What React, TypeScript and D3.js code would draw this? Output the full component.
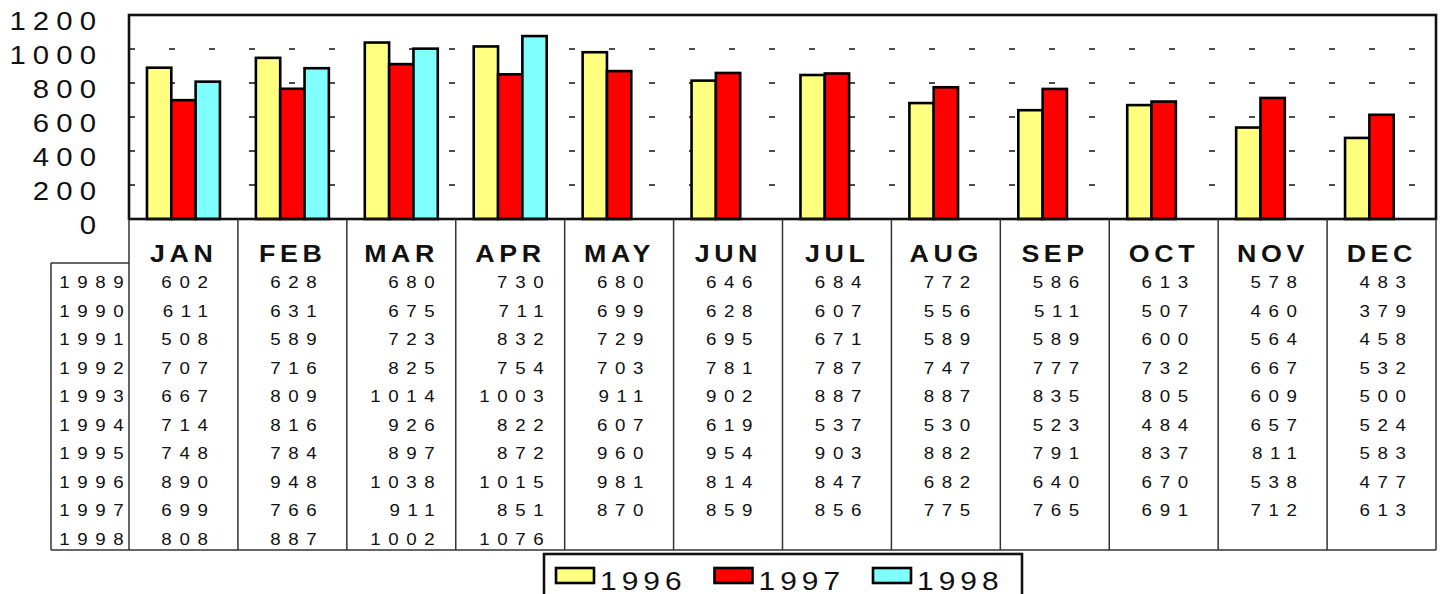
import * as d3 from 'd3';
import type { ReactNode } from 'react';

const MONTHS = ['JAN', 'FEB', 'MAR', 'APR', 'MAY', 'JUN', 'JUL', 'AUG', 'SEP', 'OCT', 'NOV', 'DEC'];
const YEARS = ['1989', '1990', '1991', '1992', '1993', '1994', '1995', '1996', '1997', '1998'];

const R1989 = [602, 628, 680, 730, 680, 646, 684, 772, 586, 613, 578, 483];
const R1990 = [611, 631, 675, 711, 699, 628, 607, 556, 511, 507, 460, 379];
const R1991 = [508, 589, 723, 832, 729, 695, 671, 589, 589, 600, 564, 458];
const R1992 = [707, 716, 825, 754, 703, 781, 787, 747, 777, 732, 667, 532];
const R1993 = [667, 809, 1014, 1003, 911, 902, 887, 887, 835, 805, 609, 500];
const R1994 = [714, 816, 926, 822, 607, 619, 537, 530, 523, 484, 657, 524];
const R1995 = [748, 784, 897, 872, 960, 954, 903, 882, 791, 837, 811, 583];
const R1996 = [890, 948, 1038, 1015, 981, 814, 847, 682, 640, 670, 538, 477];
const R1997 = [699, 766, 911, 851, 870, 859, 856, 775, 765, 691, 712, 613];
const R1998 = [808, 887, 1002, 1076];

const ROWS = [R1989, R1990, R1991, R1992, R1993, R1994, R1995, R1996, R1997, R1998];

const SERIES = ['1996', '1997', '1998'];
const SERIES_VALUES = [R1996, R1997, R1998];
const COLORS = ['#ffff80', '#ff0000', '#80ffff'];
const Y_TICKS = [0, 200, 400, 600, 800, 1000, 1200];

const VW = 1442;
const VH = 594;
const PLOT = { left: 129, right: 1436, top: 15, bottom: 219 };
const DATA_TOP = 263;
const TABLE_BOTTOM = 550;
const TABLE_LEFT = 51;
const FONT = "'Liberation Sans', Arial, Helvetica, sans-serif";
const SX = 1.15; // the original text is slightly stretched horizontally

const xCol = d3.scaleBand<string>().domain(MONTHS).range([PLOT.left, PLOT.right]);
const x0 = d3.scaleBand<string>()
  .domain(MONTHS)
  .range([PLOT.left, PLOT.right])
  .paddingInner(0.33)
  .paddingOuter(0.165);
const x1 = d3.scaleBand<string>().domain(SERIES).range([0, x0.bandwidth()]);
const y = d3.scaleLinear().domain([0, 1200]).range([PLOT.bottom, PLOT.top]);

const rowY = d3.scaleLinear().domain([0, YEARS.length - 1]).range([288, 288 + 28.5 * 9]);

// stretched text; x is the anchor point, trailing letter-spacing compensated
function T({ x, y, anchor = 'start', fs, ls = 0, sx = SX, bold = false, children }: {
  x: number; y: number; anchor?: 'start' | 'middle' | 'end'; fs: number; ls?: number;
  sx?: number; bold?: boolean; children: ReactNode;
}) {
  const comp = anchor === 'end' ? ls * sx : anchor === 'middle' ? ls * sx / 2 : 0;
  return (
    <text transform={`translate(${x + comp},${y}) scale(${sx},1)`} textAnchor={anchor}
      fontSize={fs} letterSpacing={ls} fontWeight={bold ? 700 : 400} fill="#111">
      {children}
    </text>
  );
}

export default function App() {
  const colW = xCol.bandwidth();
  return (
    <svg width={VW} height={VH} viewBox={`0 0 ${VW} ${VH}`}
      style={{ position: 'absolute', left: 0, top: 0, background: '#fff' }}
      fontFamily={FONT}>
      <rect x={0} y={0} width={VW} height={VH} fill="#fff" />

      {/* y labels */}
      {Y_TICKS.map(t => (
        <T key={`yl${t}`} x={96} y={y(t) + 14.5} anchor="end" fs={25.5} ls={6.2}>{t}</T>
      ))}

      {/* dashed grid */}
      {Y_TICKS.filter(t => t > 0 && t < 1200).map(t => (
        <line key={`g${t}`} x1={PLOT.left} x2={PLOT.right} y1={y(t)} y2={y(t)}
          stroke="#111" strokeWidth={1.5} strokeDasharray="6 34" />
      ))}

      {/* bars */}
      {MONTHS.map((m, mi) => (
        <g key={m} transform={`translate(${x0(m)},0)`}>
          {SERIES.map((s, si) => {
            const v = SERIES_VALUES[si][mi];
            if (v === undefined) return null;
            return (
              <rect key={s} x={x1(s)} y={y(v)} width={x1.bandwidth()} height={y(0) - y(v)}
                fill={COLORS[si]} stroke="#000" strokeWidth={2.6} />
            );
          })}
        </g>
      ))}

      {/* plot frame */}
      <rect x={PLOT.left} y={PLOT.top} width={PLOT.right - PLOT.left} height={PLOT.bottom - PLOT.top}
        fill="none" stroke="#111" strokeWidth={2.6} />

      {/* table lines */}
      {MONTHS.map(m => (
        <line key={`c${m}`} x1={(xCol(m) ?? 0) + colW} x2={(xCol(m) ?? 0) + colW}
          y1={PLOT.bottom} y2={TABLE_BOTTOM} stroke="#333" strokeWidth={1.5} />
      ))}
      <line x1={PLOT.left} x2={PLOT.left} y1={PLOT.bottom} y2={TABLE_BOTTOM} stroke="#333" strokeWidth={1.5} />
      <line x1={TABLE_LEFT} x2={TABLE_LEFT} y1={DATA_TOP} y2={TABLE_BOTTOM} stroke="#333" strokeWidth={1.5} />
      <line x1={TABLE_LEFT} x2={PLOT.left} y1={DATA_TOP} y2={DATA_TOP} stroke="#333" strokeWidth={1.5} />
      <line x1={TABLE_LEFT} x2={PLOT.right} y1={TABLE_BOTTOM} y2={TABLE_BOTTOM} stroke="#333" strokeWidth={1.5} />

      {/* month headers */}
      {MONTHS.map(m => (
        <T key={`h${m}`} x={(xCol(m) ?? 0) + colW / 2 - 2} y={261.5} anchor="middle"
          fs={23.3} ls={4} sx={1.15} bold>{m}</T>
      ))}

      {/* year labels */}
      {YEARS.map((yr, i) => (
        <T key={`yr${yr}`} x={(TABLE_LEFT + PLOT.left) / 2 + 1.5} y={rowY(i)} anchor="middle"
          fs={16.3} ls={6.6}>{yr}</T>
      ))}

      {/* values */}
      {MONTHS.map((m, mi) => {
        const vals = ROWS.map(r => r[mi]).filter(v => v !== undefined);
        const maxLen = d3.max(vals, v => String(v).length) ?? 3;
        const inkW = (maxLen - 1) * 18 + 8.7;
        const xr = (xCol(m) ?? 0) + colW / 2 + inkW / 2 + 2;
        return ROWS.map((r, ri) => r[mi] === undefined ? null : (
          <T key={`v${m}${ri}`} x={xr} y={rowY(ri)} anchor="end" fs={16.3} ls={6.6}>{r[mi]}</T>
        ));
      })}

      {/* legend */}
      <rect x={544} y={554} width={478} height={60} fill="#fff" stroke="#111" strokeWidth={2.6} />
      {SERIES.map((s, i) => (
        <g key={`lg${s}`} transform={`translate(${556 + i * 158.5},0)`}>
          <rect x={0} y={568} width={38} height={15} fill={COLORS[i]} stroke="#000" strokeWidth={2.6} />
          <T x={44} y={589.5} fs={26} ls={4.4}>{s}</T>
        </g>
      ))}
    </svg>
  );
}
